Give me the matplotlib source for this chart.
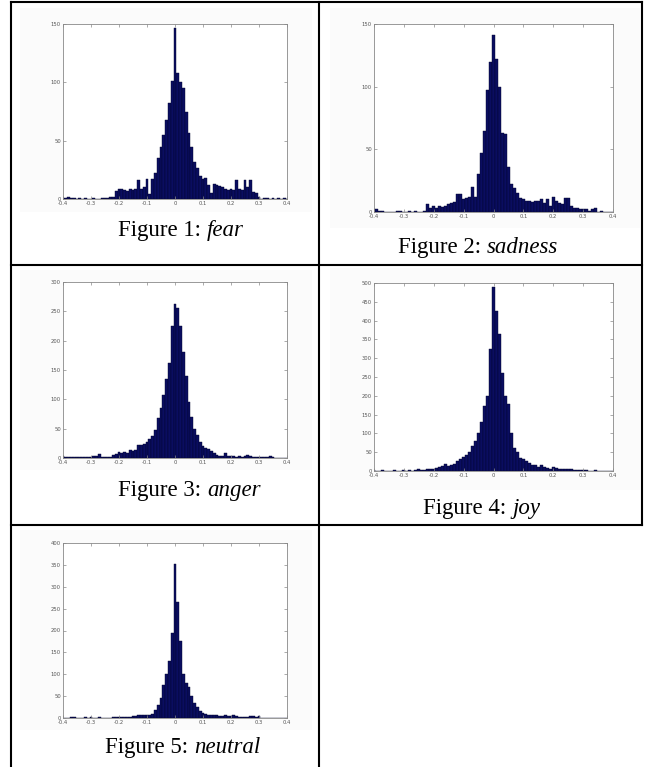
import numpy as np
import matplotlib
matplotlib.use("Agg")
import matplotlib.pyplot as plt
from matplotlib.patches import Rectangle

# bin centres -0.40 ... 0.40, step 0.01
bins = np.round(np.linspace(-0.4, 0.4, 81), 2)

fear = [1, 1, 2, 1, 1, 0, 1, 0, 1, 0, 0, 1, 0, 0, 1, 1, 1, 2, 2, 7,
        9, 9, 8, 7, 9, 8, 9, 16, 9, 10, 17, 4, 17, 22, 35, 45, 55, 68, 82, 101,
        147, 108, 100, 95, 75, 57, 45, 32, 27, 20, 17, 18, 12, 5, 13, 12, 11, 10, 9, 8,
        9, 8, 16, 9, 8, 16, 10, 16, 6, 5, 2, 0, 1, 1, 0, 1, 0, 1, 0, 1, 0]
sadness = [2, 2, 1, 1, 0, 0, 0, 0, 1, 1, 0, 0, 1, 0, 1, 0, 0, 1, 6, 3,
           5, 3, 5, 4, 5, 6, 7, 8, 14, 14, 10, 11, 12, 20, 12, 30, 47, 65, 97, 120,
           141, 122, 100, 63, 62, 36, 22, 19, 15, 11, 10, 9, 9, 8, 9, 9, 10, 7, 10, 5,
           12, 9, 7, 6, 11, 11, 5, 3, 3, 2, 2, 2, 1, 2, 3, 0, 1, 0, 0, 0, 0]
anger = [3, 2, 1, 2, 1, 1, 2, 2, 1, 2, 2, 3, 3, 6, 2, 1, 1, 2, 5, 6,
         10, 8, 10, 9, 13, 12, 14, 22, 22, 24, 28, 32, 38, 48, 68, 85, 108, 135, 162, 225,
         262, 255, 225, 180, 140, 95, 70, 50, 40, 28, 20, 17, 15, 12, 8, 5, 4, 4, 8, 4,
         3, 3, 2, 3, 2, 4, 5, 3, 2, 2, 1, 2, 2, 1, 4, 1, 0, 0, 0, 0, 0]
joy = [2, 1, 1, 2, 1, 1, 1, 2, 1, 1, 2, 1, 2, 1, 2, 5, 3, 3, 4, 5,
       6, 7, 10, 12, 18, 14, 15, 19, 27, 33, 37, 42, 50, 67, 80, 102, 130, 172, 200, 325,
       490, 425, 365, 260, 200, 178, 100, 60, 50, 35, 33, 27, 22, 15, 15, 10, 15, 10, 8, 6,
       10, 7, 5, 5, 6, 5, 4, 3, 3, 2, 3, 2, 1, 1, 2, 1, 1, 1, 0, 1, 0]
neutral = [1, 1, 1, 2, 3, 1, 1, 1, 2, 1, 2, 1, 1, 2, 1, 1, 1, 1, 2, 3,
           3, 3, 2, 2, 3, 4, 4, 6, 8, 6, 7, 8, 10, 18, 30, 45, 75, 100, 130, 195,
           353, 265, 175, 100, 80, 70, 50, 35, 25, 17, 12, 10, 8, 7, 6, 6, 5, 5, 6, 5,
           4, 6, 5, 3, 2, 2, 2, 5, 4, 3, 5, 1, 1, 0, 0, 0, 1, 0, 0, 0, 0]

titles = ["1: ", "2: ", "3: ", "4: ", "5: "]
names = ["fear", "sadness", "anger", "joy", "neutral"]
ymaxes = [150, 150, 300, 500, 400]
ysteps = [50, 50, 50, 50, 50]

W, H = 646, 767
fig = plt.figure(figsize=(W / 100, H / 100), dpi=100)
fig.patch.set_facecolor("white")

# overlay for table lines and captions (pixel coords)
bg = fig.add_axes([0, 0, 1, 1])
bg.set_xlim(0, W)
bg.set_ylim(H, 0)
bg.axis("off")

# very faint grey screenshot areas
for x0, y0, x1, y1 in [(20, 8, 312, 212), (330, 8, 640, 228), (20, 270, 312, 470),
                       (330, 268, 640, 490), (20, 530, 312, 730)]:
    bg.add_patch(Rectangle((x0, y0), x1 - x0, y1 - y0, color="#fbfbfb", lw=0, zorder=0))

lw = 1.5
bg.plot([11, 642], [2, 2], color="black", lw=lw)
bg.plot([11, 11], [2, H], color="black", lw=lw)
bg.plot([319, 319], [2, H], color="black", lw=lw)
bg.plot([642, 642], [2, 525], color="black", lw=lw)
bg.plot([11, 642], [265, 265], color="black", lw=lw)
bg.plot([11, 642], [525, 525], color="black", lw=lw)

# axes boxes in pixels: left, top, right, bottom
boxes = [(63, 24, 287, 199), (374, 24, 613, 212), (63, 282, 287, 458),
         (374, 283, 613, 471), (63, 543, 287, 718)]
# x where the italic word starts, baseline y
captions = [(207, 236), (487, 253), (207, 496), (512, 514), (194, 753)]
data = [fear, sadness, anger, joy, neutral]

for i in range(5):
    l, t, r, b = boxes[i]
    ax = fig.add_axes([l / W, 1 - b / H, (r - l) / W, (b - t) / H])
    ax.bar(bins, data[i], width=0.01, color="#0a0d60", edgecolor="#03052e", linewidth=0.3)
    ax.set_xlim(-0.4, 0.4)
    ax.set_ylim(0, ymaxes[i])
    ax.set_xticks(np.round(np.arange(-0.4, 0.41, 0.1), 1))
    ax.set_xticklabels(["-0.4", "-0.3", "-0.2", "-0.1", "0", "0.1", "0.2", "0.3", "0.4"])
    ax.set_yticks(np.arange(0, ymaxes[i] + 1, ysteps[i]))
    ax.tick_params(direction="in", length=2, width=0.5, colors="#888888",
                   labelcolor="#555555", labelsize=3.8, pad=1.5,
                   top=True, right=True)
    for s in ax.spines.values():
        s.set_color("#888888")
        s.set_linewidth(0.6)
    ax.set_facecolor("white")

    cx, cy = captions[i]
    bg.text(cx, cy, "Figure " + titles[i], ha="right", va="baseline",
            family="Liberation Serif", fontsize=16.5)
    bg.text(cx, cy, names[i], ha="left", va="baseline", style="italic",
            family="Liberation Serif", fontsize=16.5)

fig.savefig("out.png", dpi=100)
